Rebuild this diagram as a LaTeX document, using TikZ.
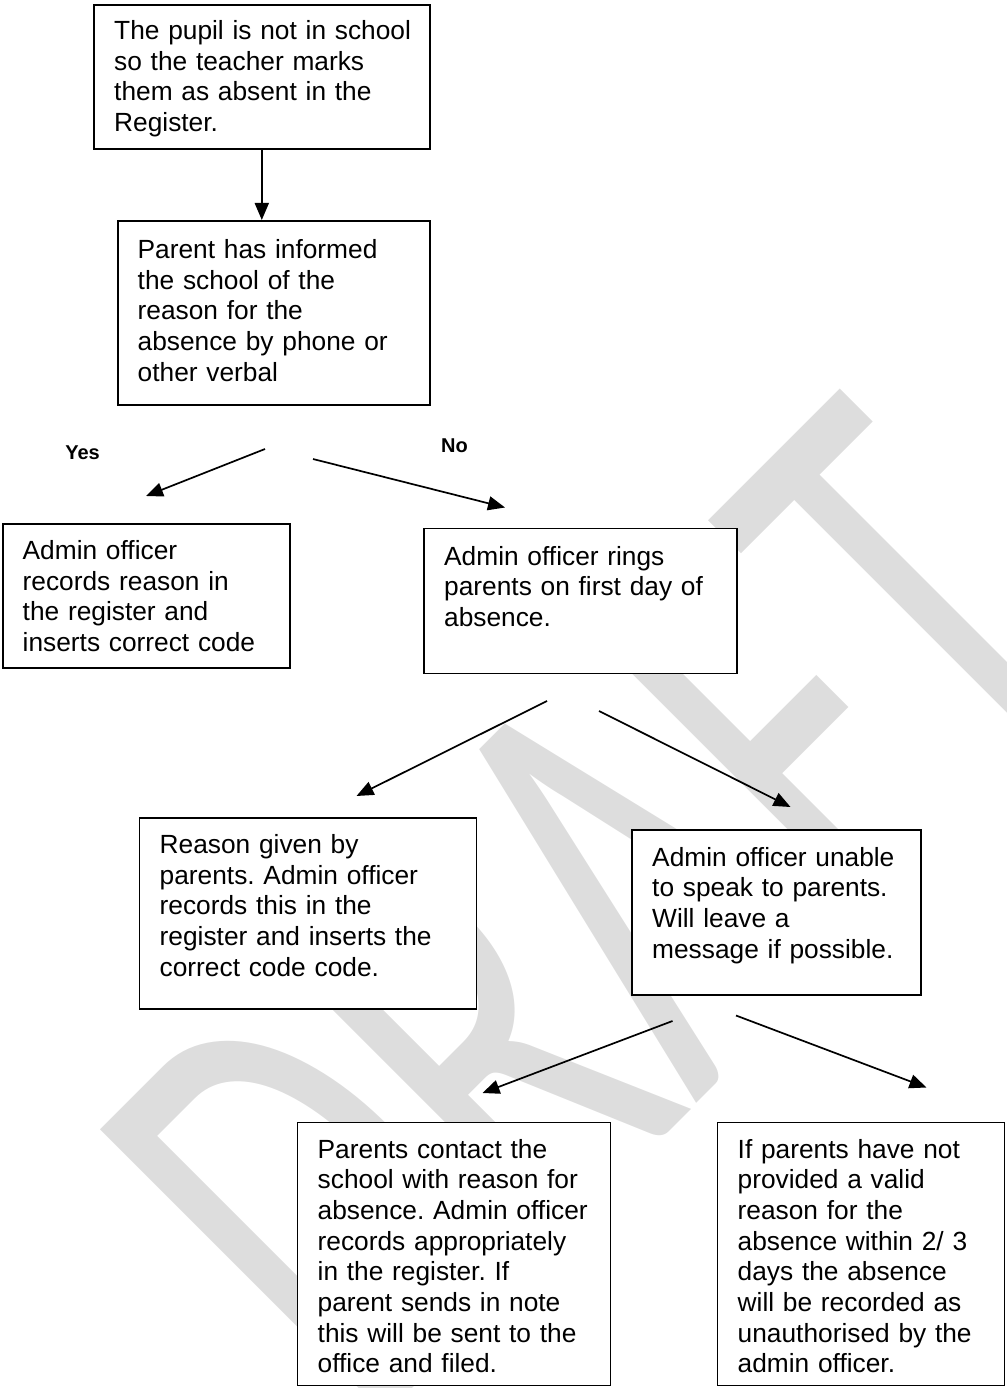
\documentclass[tikz,border=0pt]{standalone}
\usepackage{fontspec}
\setmainfont{Liberation Sans}
\newfontfamily\wmfont{Carlito}
\usetikzlibrary{arrows.meta,calc}
\definecolor{wmgray}{RGB}{221,221,221}
\begin{document}
\frenchspacing
\begin{tikzpicture}[x=1pt,y=-1pt,
  box/.style={draw=black, line width=1.6pt, fill=white, inner sep=0pt, anchor=north west},
  txt/.style={inner sep=0pt, anchor=base west, align=left, text width=#1, font=\fontsize{26.3}{30.7}\selectfont\frenchspacing},
  lbl/.style={inner sep=0pt, font=\bfseries\fontsize{20}{24}\selectfont},
  arr/.style={line width=1.7pt, -{Triangle[length=17pt,width=14pt]}}
]
\useasboundingbox (0,0) rectangle (1006,1388);
% watermark
\begin{scope}
\clip (0,0) rectangle (1006,1388);
\node[rotate=45, inner sep=0pt, text=wmgray] (wm) at (605,910) {\resizebox{1075pt}{403pt}{\wmfont DRAFT}};
\end{scope}
% boxes
\node[box, minimum width=336pt, minimum height=144pt] (b1) at (93,4) {};
\node[box, minimum width=312pt, minimum height=184pt] (b2) at (117,220) {};
\node[box, minimum width=287pt, minimum height=144pt] (b3) at (2,523) {};
\node[box, minimum width=313pt, minimum height=145pt] (b4) at (423,527.5) {};
\node[box, minimum width=337pt, minimum height=191pt] (b5) at (138.5,817) {};
\node[box, minimum width=289pt, minimum height=165pt] (b6) at (631,829) {};
\node[box, minimum width=313pt, minimum height=263pt] (b7) at (296.5,1121.5) {};
\node[box, minimum width=287pt, minimum height=263pt] (b8) at (716.5,1121.5) {};
% texts
\node[txt=312pt] (t1) at (114,39.5) {The pupil is not in school\\so the teacher marks\\them as absent in the\\Register.};
\node[txt=288pt] (t2) at (137.5,258.5) {Parent has informed\\the school of the\\reason for the\\absence by phone or\\other verbal};
\node[txt=264pt] (t3) at (22.5,559.5) {Admin officer\\records reason in\\the register and\\inserts correct code};
\node[txt=290pt] (t4) at (444,565) {Admin officer rings\\parents on first day of\\absence.};
\node[txt=313pt] (t5) at (159.5,853.5) {Reason given by\\parents. Admin officer\\records this in the\\register and inserts the\\correct code code.};
\node[txt=266pt] (t6) at (652,866) {Admin officer unable\\to speak to parents.\\Will leave a\\message if possible.};
\node[txt=289pt] (t7) at (317.5,1158) {Parents contact the\\school with reason for\\absence. Admin officer\\records appropriately\\in the register. If\\parent sends in note\\this will be sent to the\\office and filed.};
\node[txt=264pt] (t8) at (737.5,1158) {If parents have not\\provided a valid\\reason for the\\absence within 2/ 3\\days the absence\\will be recorded as\\unauthorised by the\\admin officer.};
% labels
\node[lbl] (yes) at (82.5,452.5) {Yes};
\node[lbl] (no) at (454.5,446) {No};
% arrow end points
\coordinate (yesS) at (265,449);
\coordinate (yesE) at (146,496);
\coordinate (noS) at (313,459);
\coordinate (noE) at (505,507.5);
\coordinate (l2S) at (547,701);
\coordinate (l2E) at (356.5,796);
\coordinate (r2S) at (599,711);
\coordinate (r2E) at (790.5,807);
\coordinate (l3S) at (672.5,1021);
\coordinate (l3E) at (482.5,1093);
\coordinate (r3S) at (736,1015.5);
\coordinate (r3E) at (926.5,1087.5);
% arrows
\draw[arr] (b1.south) -- (b1.south |- b2.north);
\draw[arr] (yesS) -- (yesE);
\draw[arr] (noS) -- (noE);
\draw[arr] (l2S) -- (l2E);
\draw[arr] (r2S) -- (r2E);
\draw[arr] (l3S) -- (l3E);
\draw[arr] (r3S) -- (r3E);
\end{tikzpicture}
\end{document}
